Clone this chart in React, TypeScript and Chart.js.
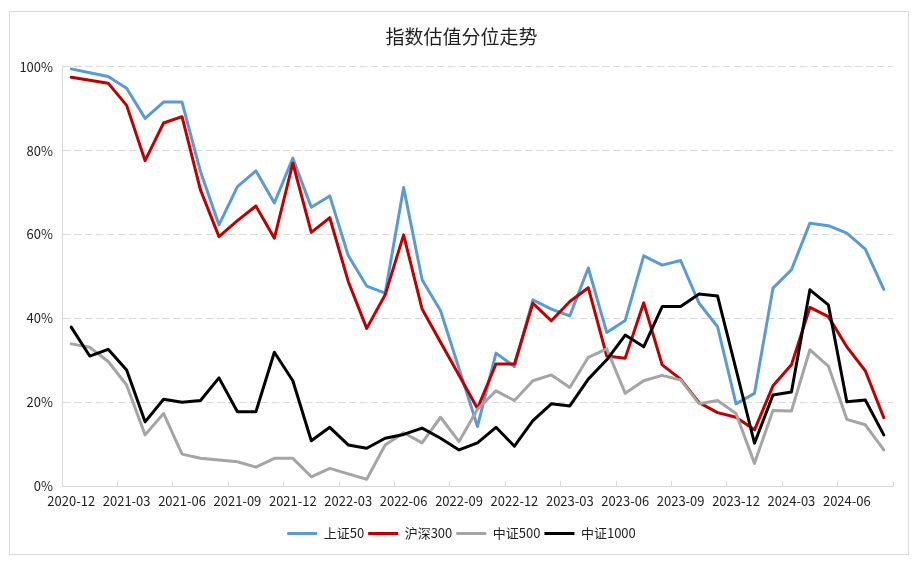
import React, { useEffect, useRef } from "react";
import { Chart, registerables } from "chart.js";

Chart.register(...registerables);

const months: string[] = [
  "2020-12","2021-01","2021-02","2021-03","2021-04","2021-05","2021-06","2021-07","2021-08","2021-09","2021-10","2021-11",
  "2021-12","2022-01","2022-02","2022-03","2022-04","2022-05","2022-06","2022-07","2022-08","2022-09","2022-10","2022-11",
  "2022-12","2023-01","2023-02","2023-03","2023-04","2023-05","2023-06","2023-07","2023-08","2023-09","2023-10","2023-11",
  "2023-12","2024-01","2024-02","2024-03","2024-04","2024-05","2024-06","2024-07","2024-08",
];

const sz50: number[] = [
  99.5, 98.6, 97.7, 94.9, 87.7, 91.6, 91.6, 75.0, 62.3, 71.4, 75.2, 67.5,
  78.2, 66.5, 69.2, 55.0, 47.7, 46.0, 71.2, 49.2, 41.8, 28.0, 14.2, 31.7,
  28.5, 44.4, 42.2, 40.6, 52.0, 36.6, 39.5, 54.9, 52.7, 53.8, 43.6, 38.0,
  19.6, 22.1, 47.2, 51.6, 62.7, 62.1, 60.3, 56.5, 46.9,
];

const hs300: number[] = [
  97.5, 96.8, 96.1, 90.8, 77.6, 86.6, 88.1, 70.6, 59.5, 63.3, 66.8, 59.1,
  77.0, 60.5, 64.0, 48.8, 37.6, 45.6, 59.9, 42.2, 34.3, 26.4, 18.5, 29.1,
  29.1, 43.6, 39.4, 44.0, 47.3, 31.0, 30.5, 43.7, 28.9, 25.5, 19.9, 17.5,
  16.4, 13.4, 23.9, 28.9, 42.6, 40.4, 33.2, 27.5, 16.3,
];

const zz500: number[] = [
  33.9, 33.1, 29.7, 24.1, 12.2, 17.3, 7.6, 6.6, 6.2, 5.8, 4.5, 6.6,
  6.6, 2.2, 4.2, 2.9, 1.6, 9.8, 12.7, 10.3, 16.4, 10.6, 18.3, 22.7,
  20.4, 25.1, 26.5, 23.5, 30.7, 32.7, 22.1, 25.1, 26.4, 25.3, 19.6, 20.4,
  17.3, 5.4, 18.0, 17.9, 32.5, 28.6, 15.9, 14.6, 8.6,
];

const zz1000: number[] = [
  37.9, 31.0, 32.6, 27.7, 15.3, 20.7, 20.0, 20.4, 25.8, 17.7, 17.7, 31.9,
  25.1, 10.8, 14.0, 9.8, 9.0, 11.4, 12.3, 13.8, 11.4, 8.6, 10.3, 14.0,
  9.5, 15.6, 19.6, 19.1, 25.5, 30.1, 36.0, 33.2, 42.8, 42.8, 45.8, 45.3,
  27.8, 10.2, 21.7, 22.4, 46.8, 43.2, 20.1, 20.5, 12.2,
];

const seriesNames: string[] = ["上证50", "沪深300", "中证500", "中证1000"];
const seriesColors: string[] = ["#5B9BD5", "#C00000", "#A5A5A5", "#000000"];
const yTicks: number[] = [0, 20, 40, 60, 80, 100];
const titleText = "指数估值分位走势";

const FONT = "'Noto Sans CJK SC', 'Microsoft YaHei', sans-serif";
const TEXT = "#1f1f1f";
const GRID = "#d9d9d9";

export default function App() {
  const ref = useRef<HTMLCanvasElement | null>(null);

  useEffect(() => {
    if (!ref.current) return;
    const values = [sz50, hs300, zz500, zz1000];
    // reversed so that later series draw on top (like the original)
    const datasets = [3, 2, 1, 0].map((i) => ({
      label: seriesNames[i],
      data: values[i],
      borderColor: seriesColors[i],
      backgroundColor: seriesColors[i],
      borderWidth: 3,
      pointRadius: 0,
      tension: 0,
      borderJoinStyle: "round" as const,
      borderCapStyle: "round" as const,
    }));

    const chart = new Chart(ref.current, {
      type: "line",
      data: { labels: months, datasets },
      options: {
        responsive: false,
        animation: false,
        layout: { padding: { left: 30, right: 30, top: 12, bottom: 18 } },
        plugins: {
          title: {
            display: true,
            text: titleText,
            color: TEXT,
            font: { family: FONT, size: 19, weight: "normal" },
            padding: { top: 13, bottom: 19 },
          },
          legend: {
            position: "bottom",
            reverse: true,
            labels: {
              color: TEXT,
              font: { family: FONT, size: 13 },
              boxWidth: 30,
              boxHeight: 3,
              padding: 4,
              generateLabels: (c: any) =>
                (Chart.defaults.plugins.legend.labels as any)
                  .generateLabels(c)
                  .map((l: any) => ({ ...l, lineWidth: 0, fillStyle: l.strokeStyle })),
            },
          },
          tooltip: { enabled: false },
        },
        scales: {
          x: {
            type: "category",
            offset: true,
            afterFit: (s: any) => {
              s.height = 37;
            },
            grid: {
              display: true,
              offset: true,
              drawOnChartArea: false,
              drawTicks: true,
              tickLength: -5,
              color: (ctx: any) =>
                ctx.index === undefined || ctx.index % 3 === 0 ? GRID : "rgba(0,0,0,0)",
              tickColor: (ctx: any) =>
                ctx.index === undefined || ctx.index % 3 === 0 ? GRID : "rgba(0,0,0,0)",
            },
            border: { display: true, color: GRID, width: 1 },
            ticks: {
              autoSkip: false,
              maxRotation: 0,
              minRotation: 0,
              padding: 12,
              color: TEXT,
              font: { family: FONT, size: 13 },
              callback: (_v: any, i: number) => (i % 3 === 0 ? months[i] : ""),
            },
          },
          y: {
            min: 0,
            max: 100,
            afterFit: (s: any) => {
              s.width = 32;
              // let the tick labels extend into the left padding, as in the original
              s._computeLabelArea = () => undefined;
            },
            afterBuildTicks: (s: any) => {
              s.ticks = yTicks.map((v) => ({ value: v }));
            },
            grid: {
              drawTicks: false,
              color: (ctx: any) => (ctx.tick && ctx.tick.value === 0 ? "rgba(0,0,0,0)" : GRID),
            },
            border: { display: true, color: GRID, width: 1, dash: [7.5, 3.5] },
            ticks: {
              padding: 9,
              color: TEXT,
              font: { family: FONT, size: 13 },
              callback: (v: any) => `${v}%`,
            },
          },
        },
      },
    });
    return () => chart.destroy();
  }, []);

  return (
    <div style={{ position: "fixed", left: 0, top: 0, width: 923, height: 568, background: "#fff" }}>
      <div
        style={{
          position: "absolute",
          left: 9,
          top: 11,
          width: 900,
          height: 544,
          border: `1px solid ${GRID}`,
          boxSizing: "border-box",
        }}
      />
      <canvas
        ref={ref}
        width={923}
        height={568}
        style={{ position: "absolute", left: 0, top: 0, width: 923, height: 568 }}
      />
    </div>
  );
}
